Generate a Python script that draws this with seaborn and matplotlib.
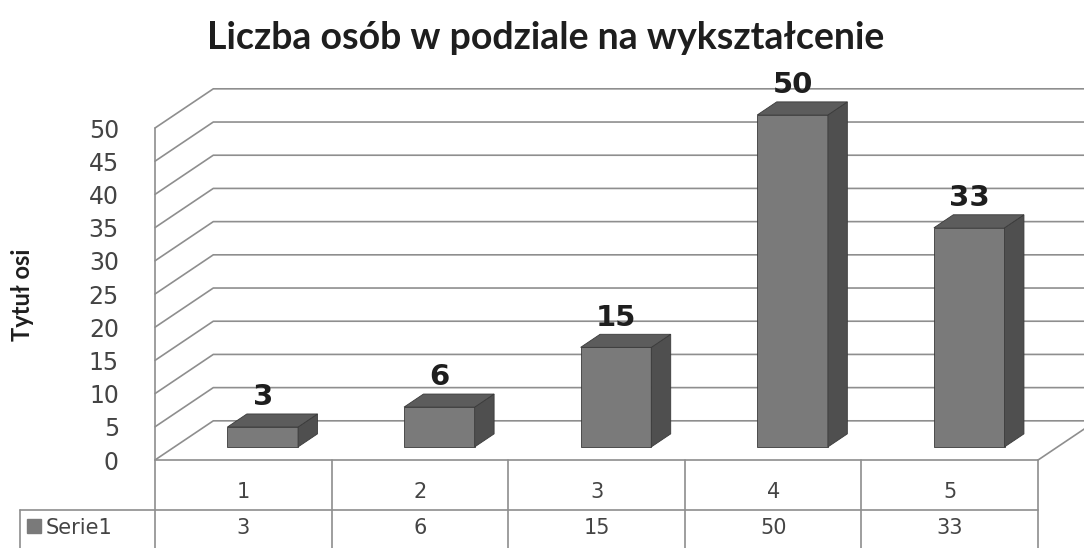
import matplotlib
matplotlib.use("Agg")
import matplotlib.pyplot as plt
import matplotlib.transforms as mtransforms
from matplotlib.patches import Polygon
import seaborn as sns
import pandas as pd

# ==== DATA ====
TITLE = "Liczba osób w podziale na wykształcenie"
Y_LABEL = "Tytuł osi"
SERIES_NAME = "Serie1"
categories = ["1", "2", "3", "4", "5"]
values = [3, 6, 15, 50, 33]
y_ticks = list(range(0, 55, 5))

# ==== STYLE ====
FRONT = "#7a7a7a"
SIDE = "#4f4f4f"
TOP = "#5c5c5c"
EDGE = "#3a3a3a"
GRID = "#8e8e8e"
TEXT = "#444444"
DARK = "#1e1e1e"

# depth of the 3d box (back wall offset) in data units, bars sit in the middle third
WALL_DX, WALL_DY = 0.33, 5.9
BAR_D0, BAR_D1 = 1 / 3, 2 / 3
X_MIN, X_MAX = -0.5, 4.76
Y_MAX = 60
ROW1, ROW2 = -7.5, -14.0
LEG_LEFT = -1.265


def at_depth(x, y, d):
    return (x + d * WALL_DX, y + d * WALL_DY)


sns.set_theme(style="white")
plt.rcParams["font.family"] = ["DejaVu Sans"]

fig = plt.figure(figsize=(10.84, 5.48), dpi=100)
fig.patch.set_facecolor("white")
ax = fig.add_axes([155 / 1084, 88 / 548, 929 / 1084, 398.4 / 548])

df = pd.DataFrame({"kat": categories, "n": values})
sns.barplot(data=df, x="kat", y="n", order=categories, width=0.4, color=FRONT,
            saturation=1, edgecolor=EDGE, linewidth=0.6, ax=ax, zorder=3)

ax.set_xlim(X_MIN, X_MAX)
ax.set_ylim(0, Y_MAX)
for s in ax.spines.values():
    s.set_visible(False)
ax.set_xticks([])
ax.set_xlabel("")
ax.set_ylabel("")
ax.set_yticks(y_ticks)
ax.tick_params(axis="y", length=0, pad=26, labelsize=17, labelcolor=TEXT)
ax.set_facecolor("none")

# back wall grid lines with the diagonal on the left side wall
for v in y_ticks:
    ax.plot([X_MIN, X_MIN + WALL_DX, X_MAX + 0.2], [v, v + WALL_DY, v + WALL_DY],
            color=GRID, lw=1.2, clip_on=False, zorder=1)
# floor right edge
ax.plot([4.5, 4.5 + WALL_DX], [0, WALL_DY], color=GRID, lw=1.2, clip_on=False, zorder=1)

# move the bars into the box and add side / top faces
shift = mtransforms.Affine2D().translate(BAR_D0 * WALL_DX, BAR_D0 * WALL_DY) + ax.transData
bars = list(ax.patches)
for p, val in zip(bars, values):
    p.set_transform(shift)
    x0, w, h = p.get_x(), p.get_width(), p.get_height()
    side = [at_depth(x0 + w, 0, BAR_D0), at_depth(x0 + w, 0, BAR_D1),
            at_depth(x0 + w, h, BAR_D1), at_depth(x0 + w, h, BAR_D0)]
    top = [at_depth(x0, h, BAR_D0), at_depth(x0 + w, h, BAR_D0),
           at_depth(x0 + w, h, BAR_D1), at_depth(x0, h, BAR_D1)]
    ax.add_patch(Polygon(side, closed=True, facecolor=SIDE, edgecolor=EDGE, lw=0.6, zorder=3))
    ax.add_patch(Polygon(top, closed=True, facecolor=TOP, edgecolor=EDGE, lw=0.6, zorder=3))
    lx, ly = at_depth(x0 + w / 2, h, BAR_D1)
    ax.text(lx - (BAR_D1 - BAR_D0) * WALL_DX, ly + 0.4, str(val), ha="center", va="bottom",
            fontsize=21, fontweight="bold", color=DARK, zorder=4)

# data table under the chart
n = len(categories)
ax.plot([X_MIN, X_MIN], [50, ROW2], color=GRID, lw=1.2, clip_on=False, zorder=2)
ax.plot([X_MIN, n - 0.5], [0, 0], color=GRID, lw=1.2, clip_on=False, zorder=2)
ax.plot([LEG_LEFT, n - 0.5], [ROW1, ROW1], color=GRID, lw=1.2, clip_on=False, zorder=2)
ax.plot([LEG_LEFT, LEG_LEFT], [ROW1, ROW2], color=GRID, lw=1.2, clip_on=False, zorder=2)
for i in range(1, n + 1):
    ax.plot([i - 0.5, i - 0.5], [0, ROW2], color=GRID, lw=1.2, clip_on=False, zorder=2)
for i, (cat, val) in enumerate(zip(categories, values)):
    ax.text(i, -4.8, cat, ha="center", va="center", fontsize=15, color=TEXT, clip_on=False)
    ax.text(i, -10.2, str(val), ha="center", va="center", fontsize=15, color=TEXT, clip_on=False)
ax.plot([LEG_LEFT + 0.08], [-10.0], marker="s", markersize=10, color=FRONT,
        markeredgecolor=FRONT, clip_on=False)
ax.text(LEG_LEFT + 0.145, -10.2, SERIES_NAME, ha="left", va="center", fontsize=15,
        color=TEXT, clip_on=False)

fig.text(0.503, 0.931, TITLE, ha="center", va="center", fontsize=27,
         fontweight="bold", color=DARK, family=["Lato", "DejaVu Sans"])
fig.text(22 / 1084, (548 - 295) / 548, Y_LABEL, ha="center", va="center", rotation=90,
         fontsize=17, fontweight="bold", color=DARK, family=["Lato", "DejaVu Sans"])

fig.savefig("out.png", dpi=100, facecolor="white")
